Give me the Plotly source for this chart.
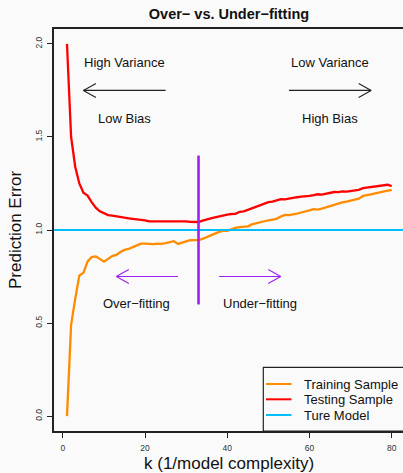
import plotly.graph_objects as go

# ---- data -------------------------------------------------------------
k = list(range(1, 81))

train_err = [
    0.000, 0.490, 0.630, 0.755, 0.770, 0.830, 0.855, 0.858, 0.845, 0.830,
    0.845, 0.860, 0.866, 0.882, 0.893, 0.898, 0.908, 0.918, 0.927, 0.927,
    0.925, 0.924, 0.926, 0.925, 0.929, 0.936, 0.940, 0.925, 0.932, 0.940,
    0.945, 0.946, 0.946, 0.952, 0.962, 0.972, 0.980, 0.990, 0.995, 0.996,
    1.003, 1.012, 1.016, 1.018, 1.020, 1.030, 1.037, 1.040, 1.047, 1.052,
    1.055, 1.060, 1.072, 1.081, 1.080, 1.082, 1.088, 1.094, 1.098, 1.106,
    1.112, 1.110, 1.115, 1.122, 1.130, 1.135, 1.142, 1.148, 1.152, 1.157,
    1.160, 1.168, 1.183, 1.186, 1.192, 1.197, 1.203, 1.208, 1.212, 1.214,
]

test_err = [
    2.000, 1.500, 1.340, 1.250, 1.200, 1.185, 1.150, 1.120, 1.100, 1.090,
    1.080, 1.077, 1.072, 1.068, 1.066, 1.063, 1.060, 1.058, 1.057, 1.052,
    1.046, 1.046, 1.045, 1.046, 1.047, 1.049, 1.045, 1.046, 1.045, 1.046,
    1.044, 1.044, 1.043, 1.050, 1.058, 1.063, 1.068, 1.074, 1.078, 1.083,
    1.086, 1.087, 1.098, 1.100, 1.108, 1.117, 1.125, 1.136, 1.142, 1.150,
    1.152, 1.160, 1.166, 1.165, 1.170, 1.171, 1.176, 1.179, 1.180, 1.183,
    1.187, 1.192, 1.190, 1.196, 1.199, 1.204, 1.203, 1.207, 1.206, 1.210,
    1.212, 1.216, 1.225, 1.228, 1.233, 1.232, 1.238, 1.240, 1.243, 1.236,
]

true_err = 1.0
best_k = 33

x_ticks = [0, 20, 40, 60, 80]
y_ticks = [0.0, 0.5, 1.0, 1.5, 2.0]
y_tick_text = ["0.0", "0.5", "1.0", "1.5", "2.0"]

legend_labels = ["Training Sample", "Testing Sample", "Ture Model"]

# ---- styling ----------------------------------------------------------
ORANGE = "#FF8C00"
RED = "#FF0000"
SKY = "#00BFFF"
PURPLE = "#A020F0"
INK = "#222222"
BG = "#fafafa"
FONT = "Liberation Sans, Arial, Helvetica, sans-serif"

W, H = 403, 473
ML, MR, MT, MB = 54, 0, 29, 42
PW, PH = W - ML - MR, H - MT - MB
XR = [-2.16, 82.75]
YR = [-0.08, 2.08]
SX = PW / (XR[1] - XR[0])   # px per x unit
SY = PH / (YR[1] - YR[0])   # px per y unit


def px_x(px):
    return (px - ML) / PW


def px_y(py):
    return (H - MB - py) / PH


def arrow(x0, x1, y, color, width):
    """Open V-headed arrow (base-graphics style) from x0 to x1 at height y."""
    s = 1 if x1 > x0 else -1
    hx, hy = 12.5 / SX, 7 / SY
    segs = [(x0, y, x1, y), (x1, y, x1 - s * hx, y + hy), (x1, y, x1 - s * hx, y - hy)]
    return [dict(type="line", xref="x", yref="y", x0=a, y0=b, x1=c, y1=d,
                 line=dict(color=color, width=width), layer="above")
            for a, b, c, d in segs]


fig = go.Figure()
fig.add_trace(go.Scatter(x=k, y=train_err, mode="lines", name=legend_labels[0],
                         line=dict(color=ORANGE, width=2.3), showlegend=False))
fig.add_trace(go.Scatter(x=k, y=test_err, mode="lines", name=legend_labels[1],
                         line=dict(color=RED, width=2.3), showlegend=False))

shapes = []
# true model reference line
shapes.append(dict(type="line", xref="x domain", yref="y", x0=0, x1=1,
                   y0=true_err, y1=true_err, line=dict(color=SKY, width=2), layer="above"))
# chosen complexity
shapes.append(dict(type="line", xref="x", yref="y", x0=best_k, x1=best_k,
                   y0=0.6, y1=1.4, line=dict(color=PURPLE, width=2.6), layer="above"))
# arrows
shapes += arrow(25, 5, 1.75, INK, 1.1)
shapes += arrow(55, 75, 1.75, INK, 1.1)
shapes += arrow(28, 13, 0.75, PURPLE, 1.1)
shapes += arrow(38, 53, 0.75, PURPLE, 1.1)

# legend box
shapes.append(dict(type="rect", xref="paper", yref="paper",
                   x0=px_x(263.3), x1=px_x(405), y0=px_y(367.3), y1=px_y(431),
                   line=dict(color=INK, width=1.2), fillcolor=BG, layer="above"))
leg_colors = [ORANGE, RED, SKY]
leg_rows = [384, 399.3, 415]
annotations = []
for lab, col, py in zip(legend_labels, leg_colors, leg_rows):
    shapes.append(dict(type="line", xref="paper", yref="paper",
                       x0=px_x(266), x1=px_x(291.5), y0=px_y(py), y1=px_y(py),
                       line=dict(color=col, width=2), layer="above"))
    annotations.append(dict(text=lab, xref="paper", yref="paper", x=px_x(301.5), y=px_y(py),
                            xanchor="left", yanchor="middle", showarrow=False,
                            font=dict(size=13, color="#111", family=FONT)))

# region labels
labels = [
    ("High Variance", 15, 1.9), ("Low Bias", 15, 1.6),
    ("Low Variance", 65, 1.9), ("High Bias", 65, 1.6),
    ("Over\u2212fitting", 18, 0.605), ("Under\u2212fitting", 48, 0.605),
]
for txt, x, y in labels:
    annotations.append(dict(text=txt, x=x, y=y, xref="x", yref="y", showarrow=False,
                            xanchor="center", yanchor="middle",
                            font=dict(size=13, color="#111", family=FONT)))

# axis titles
annotations.append(dict(text="Prediction Error", xref="paper", yref="paper",
                        x=px_x(15), y=0.5, textangle=-90, showarrow=False,
                        xanchor="center", yanchor="middle",
                        font=dict(size=17, color="#111", family=FONT)))
annotations.append(dict(text="k (1/model complexity)", xref="paper", yref="paper",
                        x=px_x(229), y=px_y(464), showarrow=False,
                        xanchor="center", yanchor="middle",
                        font=dict(size=17, color="#111", family=FONT)))

fig.update_layout(
    width=W, height=H,
    margin=dict(l=ML, r=MR, t=MT, b=MB, pad=0),
    paper_bgcolor=BG, plot_bgcolor=BG,
    showlegend=False,
    title=dict(text="Over\u2212 vs. Under\u2212fitting", x=px_x(229), xref="paper",
               xanchor="center", y=1 - 13.5 / H, yanchor="middle",
               font=dict(size=14.5, color="#111", family=FONT, weight="bold")),
    shapes=shapes,
    annotations=annotations,
)
fig.update_xaxes(range=XR, tickvals=x_ticks, ticks="outside", ticklen=5, tickwidth=1,
                 tickcolor=INK, showline=True, linecolor=INK, linewidth=1.5, mirror=True,
                 showgrid=False, zeroline=False, ticklabelstandoff=3,
                 tickfont=dict(size=8.5, color="#333", family=FONT))
fig.update_yaxes(range=YR, tickvals=y_ticks, ticktext=y_tick_text, tickangle=-90,
                 ticks="outside", ticklen=5, tickwidth=1, tickcolor=INK,
                 showline=True, linecolor=INK, linewidth=1.5, mirror=False,
                 showgrid=False, zeroline=False, ticklabelstandoff=2,
                 tickfont=dict(size=8.5, color="#333", family=FONT))

fig.write_html("out.html")
